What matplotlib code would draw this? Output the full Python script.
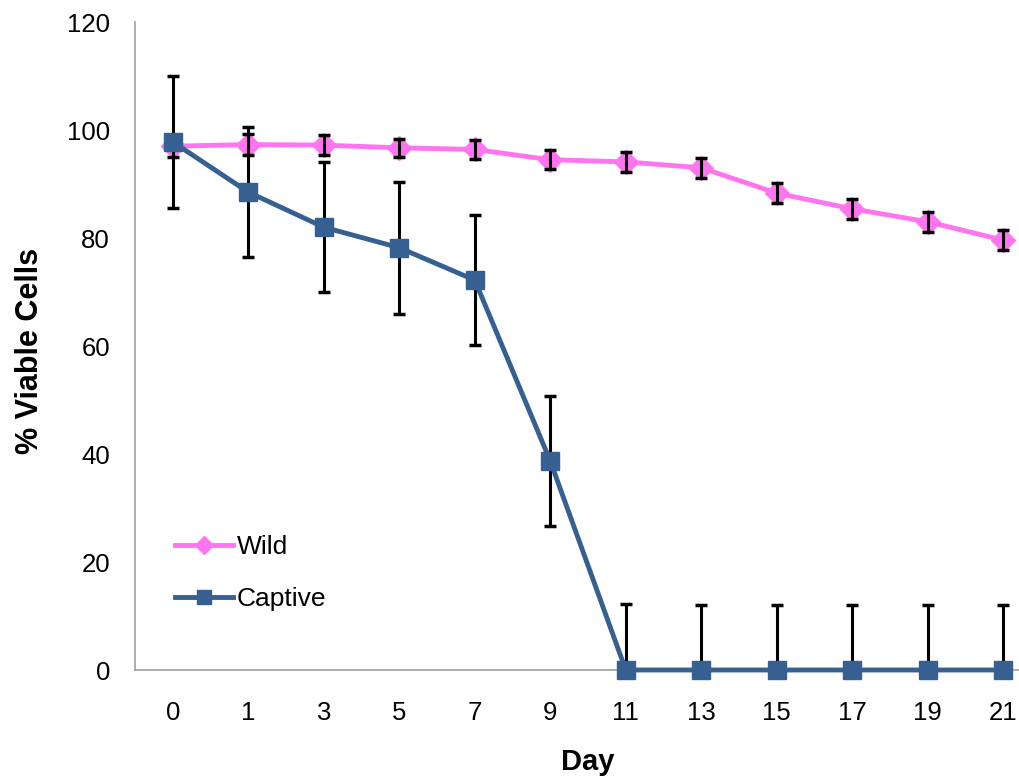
import matplotlib.pyplot as plt

days = ["0", "1", "3", "5", "7", "9", "11", "13", "15", "17", "19", "21"]
wild = [97.0, 97.3, 97.2, 96.7, 96.4, 94.5, 94.1, 93.0, 88.3, 85.4, 83.0, 79.6]
wild_err = [2.0, 1.9, 1.8, 1.7, 1.8, 1.8, 1.8, 1.8, 1.9, 1.9, 1.9, 1.8]
captive = [97.8, 88.5, 82.0, 78.2, 72.2, 38.7, 0, 0, 0, 0, 0, 0]
captive_err = [12.2, 12.0, 12.0, 12.2, 12.1, 12.0, 12.2, 12.1, 12.1, 12.1, 12.1, 12.1]

pink = "#FF75F0"
blue = "#376092"

plt.rcParams["font.family"] = ["Liberation Sans", "DejaVu Sans"]

fig = plt.figure(figsize=(10.19, 7.83), dpi=100)
ax = fig.add_axes([135 / 1019, 113 / 783, 906 / 1019, 648 / 783])

x = list(range(len(days)))

ax.errorbar(x, wild, yerr=wild_err, fmt="none", ecolor="black",
            elinewidth=2.2, capsize=4.5, capthick=2.5, zorder=3)
ax.plot(x, wild, color=pink, lw=3.5, marker="D", markersize=12,
        label="Wild", zorder=2, clip_on=False)
ax.errorbar(x, captive, yerr=captive_err, fmt="none", ecolor="black",
            elinewidth=2.2, capsize=4.5, capthick=2.5, zorder=3)
ax.plot(x, captive, color=blue, lw=3.5, marker="s", markersize=13,
        label="Captive", zorder=4, clip_on=False)

ax.set_xlim(-0.5, len(days) - 0.5)
ax.set_ylim(0, 120)
ax.set_yticks(range(0, 121, 20))
ax.set_xticks(x)
ax.set_xticklabels(days)
ax.tick_params(axis="both", length=0, labelsize=18.5)
ax.tick_params(axis="y", pad=18)
ax.tick_params(axis="x", pad=22)

for s in ["top", "right"]:
    ax.spines[s].set_visible(False)
for s in ["left", "bottom"]:
    ax.spines[s].set_color("#A0A0A0")
    ax.spines[s].set_linewidth(1.2)

fig.text(588 / 1019, 1 - 762 / 783, "Day", ha="center", va="center",
         fontsize=21, fontweight="bold")
fig.text(30 / 1019, 1 - 351 / 783, "% Viable Cells", ha="center", va="center",
         rotation=90, fontsize=22, fontweight="bold")

ax.legend(loc="center left", bbox_to_anchor=(175 / 1019, 1 - 573 / 783),
          bbox_transform=fig.transFigure, frameon=False, fontsize=19,
          handlelength=2.2, handletextpad=0.15, labelspacing=1.05,
          borderpad=0, borderaxespad=0, markerscale=0.8)

fig.savefig("out.png", dpi=100)
